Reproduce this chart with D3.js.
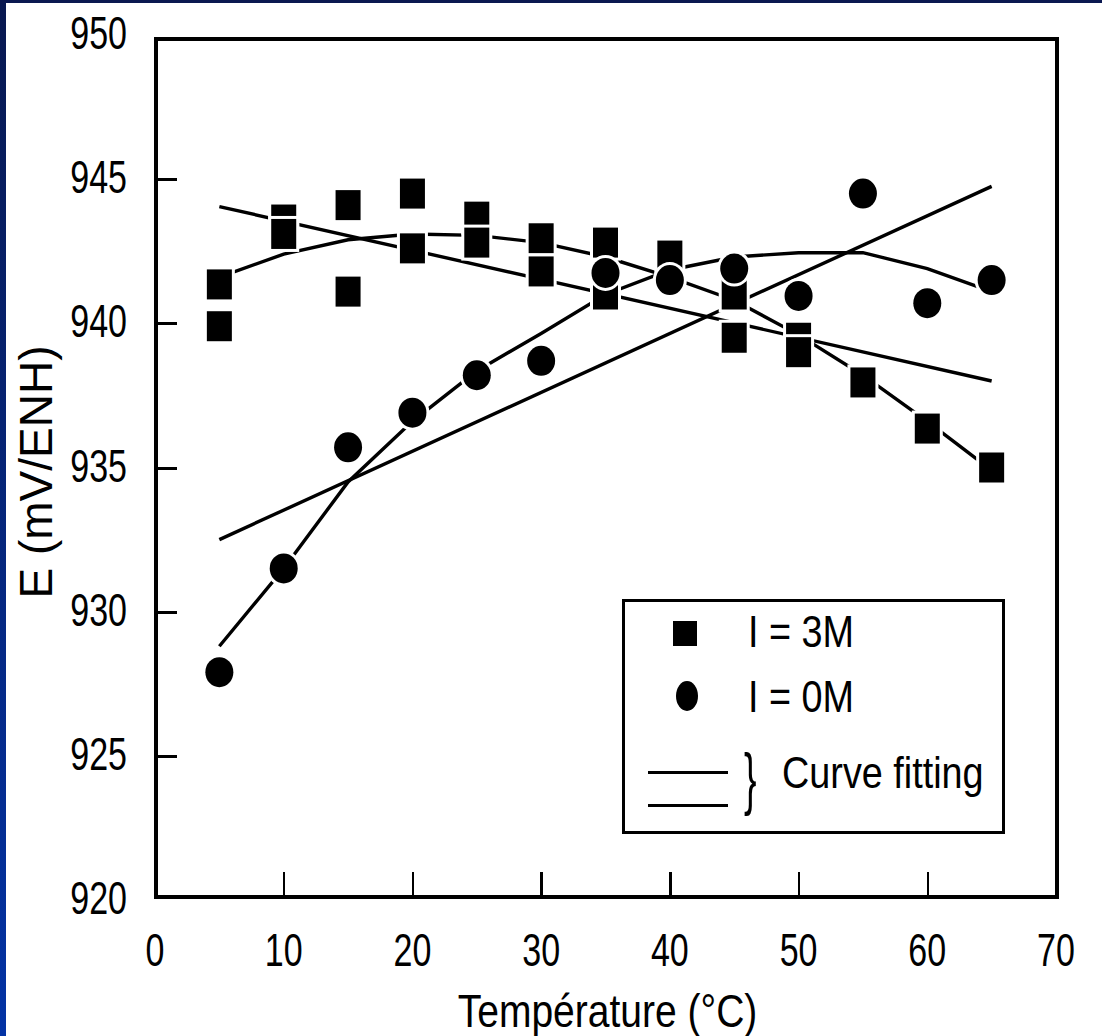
<!DOCTYPE html>
<html>
<head>
<meta charset="utf-8">
<script src="https://cdn.jsdelivr.net/npm/d3@7"></script>
<style>
html,body{margin:0;padding:0;background:#fff;}
svg{display:block;}
text{font-family:"Liberation Sans",Arial,sans-serif;fill:#000;}
</style>
</head>
<body>
<svg id="chart" width="1102" height="1036"></svg>
<script>
// ---- data ----
const xTicks = [0,10,20,30,40,50,60,70];
const yTicks = [920,925,930,935,940,945,950];

// I = 3M (squares)
const tempSq = [5,5,10,10,15,15,20,20,25,25,30,30,35,35,40,45,45,50,50,55,60,65];
const eSq    = [941.35,939.9,943.6,943.1,944.1,941.1,944.5,942.6,943.7,942.8,942.95,941.8,942.8,941.0,942.35,941.0,939.5,939.5,939.0,937.95,936.35,935.0];

// I = 0M (circles)
const tempCi = [5,10,15,20,25,30,35,40,45,50,55,60,65];
const eCi    = [927.9,931.5,935.7,936.9,938.2,938.7,941.75,941.5,941.9,940.95,944.5,940.7,941.5];

// curve fitting
const fitTemp   = [5,10,15,20,25,30,35,40,45,50,55,60,65];
const fitSqPoly = [941.6,942.4,942.9,943.1,943.05,942.8,942.3,941.6,940.8,939.6,938.2,936.6,934.9];
const fitCiPoly = [928.8,931.5,934.5,936.6,938.35,939.65,941.0,941.85,942.3,942.45,942.45,941.9,941.1];
const linTemp   = [5,65];
const fitSqLin  = [944.05,938.0];
const fitCiLin  = [932.5,944.75];

const legendLabels = ["I = 3M","I = 0M","Curve fitting"];
const xTitle = "Température (°C)";
const yTitle = "E (mV/ENH)";

// ---- layout ----
const svg = d3.select("#chart");
const L = 156, R = 1057, T = 39, B = 897;
const x = d3.scaleLinear().domain([0,70]).range([155,1056]);
const y = d3.scaleLinear().domain([920,950]).range([900,35]);

// condensed text helper
function ntext(parent, tx, ty, str, size, sx, anchor, rot) {
  const t = `translate(${tx},${ty})` + (rot ? ` rotate(${rot})` : "") + ` scale(${sx},1)`;
  return parent.append("text").attr("transform", t).attr("font-size", size)
    .attr("text-anchor", anchor || "start").text(str);
}

// slide border
const defs = svg.append("defs");
const g1 = defs.append("linearGradient").attr("id","bg").attr("x1",0).attr("y1",0).attr("x2",0).attr("y2",1);
g1.append("stop").attr("offset","0%").attr("stop-color","#081850");
g1.append("stop").attr("offset","100%").attr("stop-color","#0333a5");
svg.append("rect").attr("x",0).attr("y",0).attr("width",1102).attr("height",1036).attr("fill","#fff");
svg.append("rect").attr("x",0).attr("y",0).attr("width",6).attr("height",1036).attr("fill","url(#bg)");
svg.append("rect").attr("x",0).attr("y",0).attr("width",1102).attr("height",3).attr("fill","#0a1850");

// axis tick marks (inward)
const yAxis = d3.axisLeft(y).tickValues(yTicks.filter(d => d!==920 && d!==950)).tickSizeInner(-21).tickSizeOuter(0).tickFormat("");
const gy = svg.append("g").attr("transform",`translate(${L},0)`).call(yAxis);
gy.select(".domain").remove();
gy.selectAll(".tick line").attr("stroke","#000").attr("stroke-width",3).attr("shape-rendering","crispEdges");

const xAxis = d3.axisBottom(x).tickValues(xTicks.filter(d => d!==0 && d!==70)).tickSizeInner(-25).tickSizeOuter(0).tickFormat("");
const gx = svg.append("g").attr("transform",`translate(0,${B})`).call(xAxis);
gx.select(".domain").remove();
gx.selectAll(".tick line").attr("stroke","#000").attr("stroke-width",2.5).attr("shape-rendering","crispEdges");

// tick labels
const FS = 46, SX = 0.74;
const gyl = svg.append("g");
yTicks.forEach(d => ntext(gyl, 127, y(d)+14, d3.format("d")(d), FS, SX, "end"));
const gxl = svg.append("g");
xTicks.forEach(d => ntext(gxl, x(d), 966, d3.format("d")(d), FS, SX, "middle"));

// frame
svg.append("rect").attr("x",L).attr("y",T).attr("width",R-L).attr("height",B-T)
  .attr("fill","none").attr("stroke","#000").attr("stroke-width",3.5).attr("shape-rendering","crispEdges");

// titles
ntext(svg, (L+R)/2+1, 1027, xTitle, 47, 0.83, "middle");
ntext(svg, 52, 472, yTitle, 46, 1.0, "middle", -90);

// fit lines
const line = d3.line().x(d=>x(d[0])).y(d=>y(d[1])).curve(d3.curveLinear);
const fits = [
  d3.zip(linTemp, fitSqLin),
  d3.zip(fitTemp, fitSqPoly),
  d3.zip(linTemp, fitCiLin),
  d3.zip(fitTemp, fitCiPoly)
];
svg.append("g").selectAll("path").data(fits).join("path")
  .attr("d", line).attr("fill","none").attr("stroke","#000").attr("stroke-width",3.4);

// markers (with white halo)
const SW = 25, SH = 30, H = 3;
const gs = svg.append("g");
d3.zip(tempSq, eSq).forEach(d => {
  const cx = x(d[0]), cy = y(d[1]);
  gs.append("rect").attr("x",cx-SW/2-H).attr("y",cy-SH/2-H).attr("width",SW+2*H).attr("height",SH+2*H).attr("fill","#fff");
  gs.append("rect").attr("x",cx-SW/2).attr("y",cy-SH/2).attr("width",SW).attr("height",SH).attr("fill","#000");
});
const gc = svg.append("g");
d3.zip(tempCi, eCi).forEach(d => {
  const cx = x(d[0]), cy = y(d[1]);
  gc.append("ellipse").attr("cx",cx).attr("cy",cy).attr("rx",14+H).attr("ry",15+H).attr("fill","#fff");
  gc.append("ellipse").attr("cx",cx).attr("cy",cy).attr("rx",14).attr("ry",15).attr("fill","#000");
});

// legend
const lg = svg.append("g");
lg.append("rect").attr("x",623).attr("y",600).attr("width",380).attr("height",232)
  .attr("fill","#fff").attr("stroke","#000").attr("stroke-width",3).attr("shape-rendering","crispEdges");
lg.append("rect").attr("x",673).attr("y",621).attr("width",24).attr("height",25).attr("fill","#000");
lg.append("ellipse").attr("cx",687).attr("cy",696).attr("rx",11).attr("ry",15).attr("fill","#000");
ntext(lg, 748, 647, legendLabels[0], 45, 0.84, "start");
ntext(lg, 748, 712, legendLabels[1], 45, 0.84, "start");
[772,805].forEach(yy => lg.append("line").attr("x1",648).attr("x2",728).attr("y1",yy).attr("y2",yy)
  .attr("stroke","#000").attr("stroke-width",3).attr("shape-rendering","crispEdges"));
ntext(lg, 744, 802, "}", 68, 0.55, "start");
ntext(lg, 782, 788, legendLabels[2], 45, 0.84, "start");
</script>
</body>
</html>
